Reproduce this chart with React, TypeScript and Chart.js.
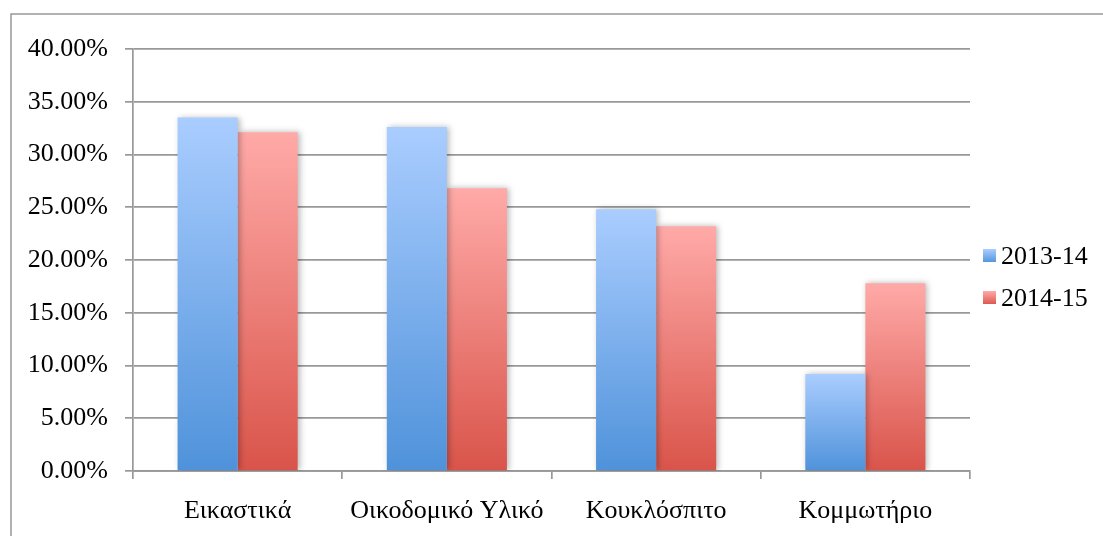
import React, { useEffect, useRef } from "react";
import { Chart, registerables } from "chart.js";

Chart.register(...registerables);

const categories = ["Εικαστικά", "Οικοδομικό Υλικό", "Κουκλόσπιτο", "Κομμωτήριο"];
const seriesNames = ["2013-14", "2014-15"];
const values2013 = [33.5, 32.6, 24.8, 9.2];
const values2014 = [32.1, 26.8, 23.2, 17.8];
const yTicks = [0, 5, 10, 15, 20, 25, 30, 35, 40];

const FONT = "'Times New Roman', 'Liberation Serif', serif";
const GRID = "#989898";
const gradStops = [
  ["#aacdff", "#4f92da"],
  ["#ffaaa8", "#d9544a"],
];

function barGradient(idx: number) {
  return (ctx: any) => {
    const chart = ctx.chart;
    if (!chart.chartArea || ctx.type !== "data") return gradStops[idx][1];
    const y = chart.scales.y;
    const top = y.getPixelForValue(ctx.parsed.y);
    const bottom = y.getPixelForValue(0);
    const g = chart.ctx.createLinearGradient(0, top, 0, bottom);
    g.addColorStop(0, gradStops[idx][0]);
    g.addColorStop(1, gradStops[idx][1]);
    return g;
  };
}

const framePlugin = {
  id: "frame",
  beforeDatasetsDraw(chart: any) {
    const c = chart.ctx;
    c.save();
    c.shadowColor = "rgba(0,0,0,0.28)";
    c.shadowBlur = 6;
    c.shadowOffsetX = 2;
    c.shadowOffsetY = 0;
  },
  afterDatasetsDraw(chart: any) {
    chart.ctx.restore();
  },
  afterDraw(chart: any) {
    const c = chart.ctx;
    c.save();
    c.strokeStyle = GRID;
    c.lineWidth = 1.5;
    c.beginPath();
    c.moveTo(11, 540);
    c.lineTo(11, 14);
    c.lineTo(1110, 14);
    c.stroke();
    // legend
    const ys = [256, 298];
    seriesNames.forEach((name, i) => {
      const y0 = ys[i];
      const g = c.createLinearGradient(0, y0 - 7, 0, y0 + 7);
      g.addColorStop(0, gradStops[i][0]);
      g.addColorStop(1, gradStops[i][1]);
      c.fillStyle = g;
      c.fillRect(983, y0 - 7, 13, 13);
      c.fillStyle = "#000";
      c.font = `26px ${FONT}`;
      c.textBaseline = "middle";
      c.textAlign = "left";
      c.fillText(name, 1001, y0 + 1);
    });
    c.restore();
  },
};

export default function App() {
  const ref = useRef<HTMLCanvasElement>(null);
  useEffect(() => {
    if (!ref.current) return;
    const chart = new Chart(ref.current, {
      type: "bar",
      data: {
        labels: categories,
        datasets: [
          { label: seriesNames[0], data: values2013, backgroundColor: barGradient(0) },
          { label: seriesNames[1], data: values2014, backgroundColor: barGradient(1) },
        ],
      },
      options: {
        responsive: false,
        animation: false,
        layout: { padding: { left: 0, right: 133, top: 49, bottom: 0 } },
        datasets: { bar: { categoryPercentage: 0.574, barPercentage: 1 } } as any,
        plugins: { legend: { display: false }, tooltip: { enabled: false } },
        scales: {
          x: {
            grid: { offset: true, drawOnChartArea: false, tickLength: 8, color: GRID, lineWidth: 1.7 },
            border: { display: true, color: GRID, width: 1.7 },
            ticks: { color: "#000", font: { family: FONT, size: 26 }, padding: 17, maxRotation: 0 },
            afterFit: (s: any) => { s.height = 65; },
          },
          y: {
            min: 0,
            max: 40,
            afterBuildTicks: (s: any) => { s.ticks = yTicks.map((v) => ({ value: v })); },
            grid: { color: GRID, lineWidth: 1.7, tickLength: 8 },
            border: { display: true, color: GRID, width: 1.7 },
            ticks: {
              color: "#000",
              font: { family: FONT, size: 26 },
              padding: 17,
              callback: (v: any) => Number(v).toFixed(2) + "%",
            },
            afterFit: (s: any) => { s.width = 133; },
          },
        },
      },
      plugins: [framePlugin],
    });
    return () => chart.destroy();
  }, []);
  return (
    <div style={{ position: "absolute", left: 0, top: 0, width: 1103, height: 536, background: "#fff" }}>
      <canvas ref={ref} width={1103} height={536} />
    </div>
  );
}
